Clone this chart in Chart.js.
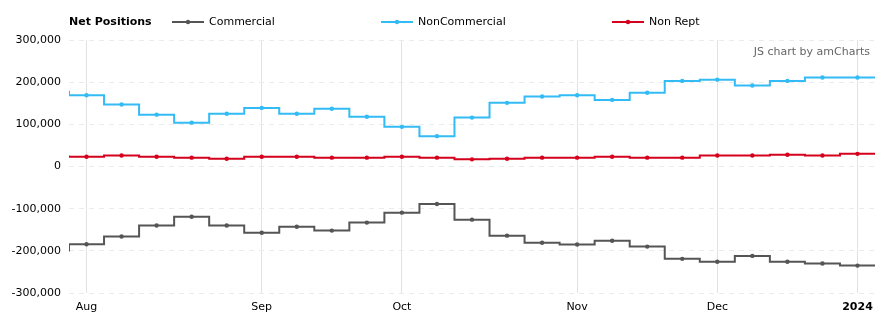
<!DOCTYPE html>
<html>
<head>
<meta charset="utf-8">
<script src="https://cdn.jsdelivr.net/npm/chart.js@4.4.1/dist/chart.umd.min.js"></script>
<style>
  html, body { margin: 0; padding: 0; background: #fff; }
  #wrap { position: relative; width: 890px; height: 327px; }
</style>
</head>
<body>
<div id="wrap"><canvas id="myChart" width="890" height="327"></canvas></div>
<script>
// weekly report dates (Tuesdays), first entry is the week before the visible range
const weeks = ['2023-07-25','2023-08-01','2023-08-08','2023-08-15','2023-08-22','2023-08-29',
  '2023-09-05','2023-09-12','2023-09-19','2023-09-26','2023-10-03','2023-10-10','2023-10-17',
  '2023-10-24','2023-10-31','2023-11-07','2023-11-14','2023-11-21','2023-11-28','2023-12-05',
  '2023-12-12','2023-12-19','2023-12-26','2024-01-02'];

const seriesNames = ['Commercial', 'NonCommercial', 'Non Rept'];

const commercial = [-199000,-184500,-166000,-140000,-119000,-140000,-157000,-143000,-152000,-133000,
  -109500,-89000,-126000,-164000,-181000,-185000,-176000,-190000,-219000,-226000,-212000,-226000,-230000,-235000];
const nonCommercial = [177000,169000,147000,123000,104000,125000,139000,125000,137000,118000,
  94000,72000,116000,151000,166000,169000,158000,175000,203000,206000,192000,203000,211000,211000];
const nonRept = [24000,23000,26000,23000,21000,18500,23000,23000,21000,21000,
  23000,21000,17000,18500,21000,21000,23000,21000,21000,26000,26000,28000,26000,30000];

const monthNames = ['Jan','Feb','Mar','Apr','May','Jun','Jul','Aug','Sep','Oct','Nov','Dec'];
const yTicks = [-300000, -200000, -100000, 0, 100000, 200000, 300000];

const colors = ['#555555', '#33bbf5', '#d5001c'];
const font = '"DejaVu Sans", Verdana, sans-serif';

// x is week index, shifted so Aug 1 is 0
function toPoints(arr) {
  // one extra week after the last report keeps the final step flat to the edge
  const pts = arr.map((v, i) => ({ x: i - 1, y: v }));
  pts.push({ x: arr.length - 1, y: arr[arr.length - 1] });
  return pts;
}

// first report of each month gets a grid line and label
const monthTicks = [];
weeks.forEach((w, i) => {
  if (i === 0) return;
  const m = w.slice(5, 7);
  if (m !== weeks[i - 1].slice(5, 7)) monthTicks.push(i - 1);
});
const lastIdx = weeks.length - 2;

function tickLabel(v) {
  const w = weeks[v + 1];
  if (!w) return '';
  const m = parseInt(w.slice(5, 7)) - 1;
  return m === 0 ? w.slice(0, 4) : monthNames[m];
}

const datasets = [commercial, nonCommercial, nonRept].map((arr, k) => ({
  label: seriesNames[k],
  data: toPoints(arr),
  borderColor: colors[k],
  backgroundColor: colors[k],
  borderWidth: 2,
  stepped: 'middle',
  pointRadius: ctx => (ctx.raw && ctx.raw.x >= 0 && ctx.raw.x <= lastIdx) ? 2.2 : 0,
  pointHoverRadius: 3,
  pointBorderWidth: 0
}));

const legendPlugin = {
  id: 'customLegend',
  afterDraw(chart) {
    const c = chart.ctx;
    c.save();
    c.textBaseline = 'middle';
    c.fillStyle = '#000';
    c.font = 'bold 11px ' + font;
    c.fillText('Net Positions', 69, 22);
    const xs = [172, 381, 612];
    c.font = '11px ' + font;
    seriesNames.forEach((n, k) => {
      const x = xs[k];
      c.strokeStyle = colors[k];
      c.lineWidth = 2;
      c.beginPath();
      c.moveTo(x, 22);
      c.lineTo(x + 32, 22);
      c.stroke();
      c.fillStyle = colors[k];
      c.beginPath();
      c.arc(x + 16, 22, 2.2, 0, Math.PI * 2);
      c.fill();
      c.fillStyle = '#000';
      c.fillText(n, x + 37, 22);
    });
    c.fillStyle = '#666';
    c.textAlign = 'right';
    c.fillText('JS chart by amCharts', 870, 52);
    c.restore();
  }
};

const ctx = document.getElementById('myChart').getContext('2d');
const myChart = new Chart(ctx, {
  type: 'line',
  data: { datasets: datasets },
  options: {
    responsive: false,
    animation: false,
    layout: { padding: { top: 40, right: 15, left: 0, bottom: 0 } },
    plugins: { legend: { display: false }, tooltip: { enabled: false } },
    scales: {
      x: {
        type: 'linear',
        min: -0.5,
        max: lastIdx + 0.5,
        afterBuildTicks: s => { s.ticks = monthTicks.map(v => ({ value: v })); },
        afterFit: s => { s.height = 34; },
        border: { display: false },
        grid: { color: '#e2e2e2', drawTicks: false },
        ticks: {
          autoSkip: false,
          maxRotation: 0,
          padding: 8,
          color: '#000',
          font: ctx => ({ family: font, size: 11, weight: (ctx.tick && tickLabel(ctx.tick.value).length === 4) ? 'bold' : 'normal' }),
          callback: v => tickLabel(v)
        }
      },
      y: {
        min: -300000,
        max: 300000,
        afterBuildTicks: s => { s.ticks = yTicks.map(v => ({ value: v })); },
        afterFit: s => { s.width = 69; },
        border: { display: false, dash: [5, 5] },
        grid: { color: '#ebebeb', drawTicks: false },
        ticks: {
          padding: 8,
          color: '#000',
          font: { family: font, size: 11 },
          callback: v => v.toLocaleString('en-US')
        }
      }
    }
  },
  plugins: [legendPlugin]
});
</script>
</body>
</html>
